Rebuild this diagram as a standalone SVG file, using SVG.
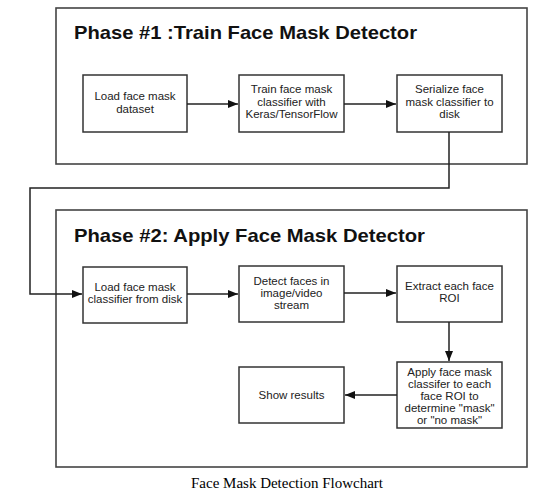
<svg xmlns="http://www.w3.org/2000/svg" width="549" height="498" viewBox="0 0 549 498">
<style>
.phase{fill:none;stroke:#444;stroke-width:1.6}
.box{fill:#fff;stroke:#333;stroke-width:1.5}
.title{font-family:"Liberation Sans",Arial,sans-serif;font-weight:bold;font-size:19px;fill:#111}
.lbl{font-family:"Liberation Sans",Arial,sans-serif;font-size:11.5px;fill:#222;text-anchor:middle}
.cap{font-family:"Liberation Serif","Times New Roman",serif;font-size:15px;fill:#000;text-anchor:middle}
.con{fill:none;stroke:#222;stroke-width:1.5}
</style>
<defs>
<marker id="ah" markerWidth="10" markerHeight="8" refX="10" refY="4" orient="auto" markerUnits="userSpaceOnUse">
<path d="M0,0 L10,4 L0,8 Z" fill="#111"/>
</marker>
</defs>
<rect width="549" height="498" fill="#fff"/>
<g id="phase1">
<rect class="phase" x="56" y="8" width="471" height="156"/>
<text class="title" x="74" y="39" textLength="343" lengthAdjust="spacingAndGlyphs">Phase #1 :Train Face Mask Detector</text>
</g>
<g id="phase2">
<rect class="phase" x="56" y="210" width="471" height="257"/>
<text class="title" x="74" y="242" textLength="351" lengthAdjust="spacingAndGlyphs">Phase #2: Apply Face Mask Detector</text>
</g>
<g id="n1">
<rect class="box" x="83" y="75" width="104" height="57"/>
<text class="lbl"><tspan x="135" y="100">Load face mask</tspan><tspan x="135" y="112.5">dataset</tspan></text>
</g>
<g id="n2">
<rect class="box" x="239" y="75" width="105" height="57"/>
<text class="lbl"><tspan x="291.5" y="93">Train face mask</tspan><tspan x="291.5" y="105.5">classifier with</tspan><tspan x="291.5" y="118">Keras/TensorFlow</tspan></text>
</g>
<g id="n3">
<rect class="box" x="397" y="75" width="105" height="57"/>
<text class="lbl"><tspan x="449.5" y="93">Serialize face</tspan><tspan x="449.5" y="105.5">mask classifier to</tspan><tspan x="449.5" y="118">disk</tspan></text>
</g>
<g id="n4">
<rect class="box" x="83" y="267" width="104" height="56"/>
<text class="lbl"><tspan x="135" y="291">Load face mask</tspan><tspan x="135" y="303">classifier from disk</tspan></text>
</g>
<g id="n5">
<rect class="box" x="239" y="266" width="105" height="56"/>
<text class="lbl"><tspan x="291.5" y="285">Detect faces in</tspan><tspan x="291.5" y="297">image/video</tspan><tspan x="291.5" y="309">stream</tspan></text>
</g>
<g id="n6">
<rect class="box" x="397" y="266" width="105" height="56"/>
<text class="lbl"><tspan x="449.5" y="290">Extract each face</tspan><tspan x="449.5" y="302">ROI</tspan></text>
</g>
<g id="n7">
<rect class="box" x="397" y="362" width="105" height="66"/>
<text class="lbl"><tspan x="449.5" y="376">Apply face mask</tspan><tspan x="449.5" y="388">classifer to each</tspan><tspan x="449.5" y="400">face ROI to</tspan><tspan x="449.5" y="412">determine "mask"</tspan><tspan x="449.5" y="424">or "no mask"</tspan></text>
</g>
<g id="n8">
<rect class="box" x="239" y="367" width="105" height="56"/>
<text class="lbl" x="291.5" y="399">Show results</text>
</g>
<g id="connectors">
<path class="con" d="M187,104 H238" marker-end="url(#ah)"/>
<path class="con" d="M344,104 H396" marker-end="url(#ah)"/>
<path class="con" d="M449,132 V188 H30 V294 H82" marker-end="url(#ah)"/>
<path class="con" d="M187,294 H238" marker-end="url(#ah)"/>
<path class="con" d="M344,293 H396" marker-end="url(#ah)"/>
<path class="con" d="M449,322 V361" marker-end="url(#ah)"/>
<path class="con" d="M397,395 H345" marker-end="url(#ah)"/>
</g>
<text class="cap" x="287" y="488">Face Mask Detection Flowchart</text>
</svg>
